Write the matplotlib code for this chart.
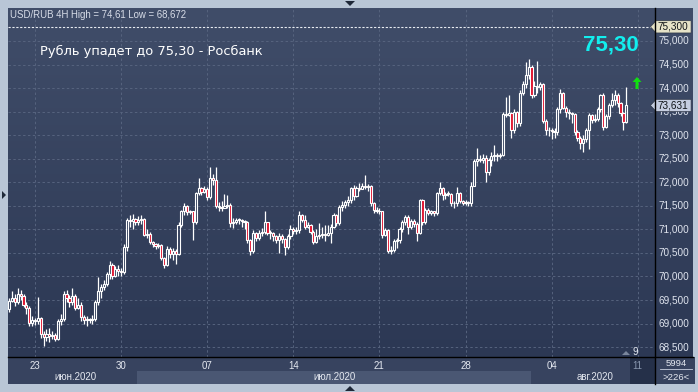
import numpy as np
import matplotlib.pyplot as plt
from matplotlib.colors import LinearSegmentedColormap
from matplotlib.patches import Polygon, Rectangle
import matplotlib.transforms as mtransforms

# 4H candles USD/RUB, first candle index relative to 23 June (index 0)
first_index = -9
first_open = 69.30
closes = [69.48, 69.55, 69.45, 69.62, 69.58, 69.40, 69.33, 69.02, 69.08, 69.05,
          69.12, 68.78, 68.72, 68.78, 68.74, 68.76, 68.67, 69.05, 69.10, 69.62,
          69.55, 69.45, 69.58, 69.33, 69.40, 69.13, 69.08, 69.10, 69.07, 69.10,
          69.45, 69.70, 69.78, 69.85, 70.05, 70.25, 70.02, 70.15, 70.12, 70.10,
          70.62, 71.20, 71.18, 71.22, 71.16, 71.20, 71.22, 70.88, 70.90, 70.73,
          70.68, 70.65, 70.66, 70.40, 70.25, 70.58, 70.48, 70.55, 70.47, 71.10,
          71.38, 71.50, 71.36, 71.38, 71.15, 71.77, 71.87, 71.80, 71.85, 71.68,
          72.10, 72.05, 71.50, 71.48, 71.46, 71.50, 71.52, 71.13, 71.15, 71.20,
          71.20, 71.18, 71.16, 70.78, 70.55, 70.93, 70.82, 70.92, 70.95, 71.15,
          70.93, 70.92, 70.85, 70.78, 70.86, 70.80, 70.62, 70.85, 71.00, 70.97,
          70.98, 71.30, 71.20, 71.05, 71.10, 70.95, 70.74, 70.85, 70.88, 70.90,
          70.88, 70.92, 71.05, 71.30, 71.13, 71.48, 71.52, 71.58, 71.62, 71.87,
          71.70, 71.88, 71.85, 71.92, 71.90, 71.92, 71.55, 71.42, 71.40, 71.38,
          70.88, 70.98, 70.55, 70.57, 70.75, 70.77, 71.00, 71.15, 71.27, 71.05,
          71.18, 71.12, 70.93, 71.62, 71.15, 71.42, 71.35, 71.38, 71.35, 71.77,
          71.88, 71.72, 71.75, 71.76, 71.55, 71.56, 71.77, 71.60, 71.57, 71.58,
          71.55, 71.93, 72.45, 72.50, 72.47, 72.52, 72.22, 72.47, 72.55, 72.58,
          72.55, 72.58, 73.45, 73.42, 73.48, 73.10, 73.50, 73.25, 73.90, 74.08,
          74.28, 74.45, 73.85, 74.05, 74.02, 74.08, 73.30, 73.12, 73.10, 73.08,
          73.07, 73.55, 73.90, 73.58, 73.50, 73.47, 73.45, 73.07, 72.93, 72.84,
          72.92, 73.10, 73.43, 73.32, 73.34, 73.55, 73.85, 73.17, 73.40, 73.63,
          73.75, 73.85, 73.68, 73.47, 73.28, 73.63]
highs = [69.55, 69.70, 69.62, 69.75, 69.72, 69.62, 69.45, 69.38, 69.15, 69.12,
         69.56, 69.14, 68.85, 68.88, 68.90, 68.85, 68.80, 69.10, 69.20, 69.70,
         69.72, 69.60, 69.75, 69.62, 69.55, 69.45, 69.18, 69.15, 69.12, 69.18,
         69.50, 69.99, 69.85, 69.92, 70.10, 70.32, 70.28, 70.22, 70.25, 70.18,
         70.68, 71.25, 71.30, 71.32, 71.25, 71.28, 71.30, 71.25, 71.00, 70.95,
         70.75, 70.72, 70.72, 70.68, 70.42, 70.65, 70.62, 70.60, 70.58, 71.15,
         71.42, 71.55, 71.52, 71.42, 71.40, 71.80, 72.10, 71.90, 71.92, 71.90,
         72.32, 72.18, 72.32, 71.58, 71.60, 71.75, 71.73, 71.55, 71.25, 71.25,
         71.25, 71.22, 71.20, 71.18, 70.80, 70.98, 70.95, 70.98, 71.02, 71.40,
         71.15, 70.98, 70.95, 70.88, 70.92, 70.90, 70.82, 70.90, 71.10, 71.05,
         71.05, 71.38, 71.32, 71.30, 71.15, 71.12, 70.98, 71.00, 71.13, 71.05,
         71.10, 71.10, 71.12, 71.35, 71.32, 71.52, 71.60, 71.62, 71.70, 71.90,
         71.95, 71.92, 71.98, 71.98, 72.15, 71.96, 71.94, 71.58, 71.48, 71.45,
         71.40, 71.02, 71.00, 70.65, 70.80, 70.82, 71.05, 71.20, 71.30, 71.30,
         71.22, 71.22, 71.15, 71.65, 71.65, 71.45, 71.45, 71.42, 71.40, 71.80,
         72.00, 71.90, 71.80, 71.82, 71.78, 71.60, 71.90, 71.80, 71.62, 71.62,
         71.60, 72.00, 72.50, 72.72, 72.58, 72.60, 72.58, 72.52, 72.65, 72.80,
         72.62, 72.62, 73.50, 73.80, 73.85, 73.50, 73.55, 73.52, 73.95, 74.15,
         74.55, 74.61, 74.50, 74.15, 74.58, 74.12, 74.10, 73.35, 73.18, 73.15,
         73.15, 73.60, 73.98, 73.92, 73.62, 73.55, 73.50, 73.48, 73.12, 72.98,
         73.00, 73.15, 73.48, 73.45, 73.45, 73.60, 73.88, 73.90, 73.45, 73.68,
         73.90, 73.95, 73.90, 73.70, 73.50, 74.02]
lows = [69.25, 69.45, 69.38, 69.42, 69.50, 69.35, 69.20, 68.95, 68.95, 68.98,
        69.00, 68.70, 68.53, 68.62, 68.60, 68.68, 68.62, 68.65, 68.98, 69.05,
        69.45, 69.35, 69.40, 69.28, 69.30, 69.05, 69.00, 68.95, 69.02, 69.00,
        69.05, 69.40, 69.55, 69.72, 69.80, 69.95, 69.95, 69.98, 70.00, 70.02,
        70.05, 70.55, 71.05, 71.00, 71.10, 71.10, 71.12, 70.85, 70.82, 70.68,
        70.62, 70.58, 70.60, 70.35, 70.18, 70.22, 70.40, 70.35, 70.27, 70.45,
        71.05, 71.30, 71.30, 71.32, 70.77, 71.12, 71.72, 71.72, 71.78, 71.62,
        71.65, 71.95, 71.45, 71.38, 71.40, 71.45, 71.45, 71.05, 71.03, 71.12,
        71.12, 71.05, 71.00, 70.72, 70.45, 70.50, 70.75, 70.78, 70.85, 70.90,
        70.88, 70.80, 70.75, 70.72, 70.50, 70.70, 70.45, 70.58, 70.80, 70.90,
        70.90, 70.92, 71.15, 71.00, 71.02, 70.90, 70.68, 70.72, 70.80, 70.82,
        70.75, 70.85, 70.70, 71.02, 71.08, 71.10, 71.40, 71.45, 71.50, 71.55,
        71.62, 71.68, 71.82, 71.85, 71.85, 71.82, 71.50, 71.35, 71.35, 71.33,
        70.82, 70.85, 70.50, 70.48, 70.52, 70.60, 70.72, 70.95, 71.10, 70.90,
        71.00, 71.05, 70.75, 70.90, 71.10, 71.12, 71.30, 71.30, 71.28, 71.30,
        71.72, 71.62, 71.65, 71.70, 71.50, 71.45, 71.50, 71.55, 71.52, 71.52,
        71.50, 71.50, 71.92, 72.35, 72.42, 72.40, 72.00, 72.15, 72.35, 72.45,
        72.45, 72.52, 72.55, 73.38, 73.40, 72.95, 73.05, 73.18, 73.20, 73.85,
        74.00, 74.20, 73.78, 73.80, 73.90, 73.95, 73.25, 73.00, 72.98, 72.92,
        72.95, 73.00, 73.48, 73.55, 73.38, 73.35, 73.25, 73.00, 72.88, 72.70,
        72.65, 72.85, 72.70, 73.25, 73.28, 73.30, 73.50, 73.10, 73.15, 73.35,
        73.60, 73.65, 73.60, 73.40, 73.10, 73.25]

week_labels = ['23', '30', '07', '14', '21', '28', '04', '11']
month_labels = ['июн.2020', 'июл.2020', 'авг.2020']
price_ticks = [68.5, 69.0, 69.5, 70.0, 70.5, 71.0, 71.5, 72.0, 72.5, 73.0, 73.5, 74.0, 74.5, 75.0]
target_price = 75.30
last_price = 73.631
title = 'USD/RUB 4H High = 74,61 Low = 68,672'
headline = 'Рубль упадет до 75,30 - Росбанк'

W, H = 698, 392
fig = plt.figure(figsize=(W / 100, H / 100), dpi=100)
fig.patch.set_facecolor('#b9c6d6')


def box(x0, y0, x1, y1):
    return [x0 / W, 1 - y1 / H, (x1 - x0) / W, (y1 - y0) / H]


def fig_poly(pts, color):
    fig.add_artist(Polygon([(px / W, 1 - py / H) for px, py in pts], closed=True,
                           facecolor=color, lw=0, transform=fig.transFigure))


bg_cmap = LinearSegmentedColormap.from_list('bg', ['#404d69', '#2c3854'])
ylo, yhi = 68.29, 75.70
xlo, xhi = -9.4, 216.0

ax = fig.add_axes(box(8, 8, 655, 357))
ax.set_xlim(xlo, xhi)
ax.set_ylim(ylo, yhi)
ax.imshow(np.linspace(0, 1, 256).reshape(-1, 1), cmap=bg_cmap, aspect='auto',
          extent=[xlo, xhi, ylo, yhi], zorder=0)
ax.axis('off')

# grid
for p in price_ticks:
    ax.axhline(p, color='#56637e', lw=0.7, ls=(0, (2.5, 2.5)), zorder=1)
for k in range(len(week_labels)):
    ax.axvline(k * 30, color='#56637e', lw=0.7, ls=(0, (2.5, 2.5)), zorder=1)

# candles
o = np.array([first_open] + closes[:-1])
c = np.array(closes)
h = np.array(highs)
l = np.array(lows)
x = np.arange(len(c)) + first_index
top = np.maximum(o, c)
bot = np.minimum(o, c)
up = c >= o
ax.vlines(x, top, np.maximum(h, top), color='white', lw=0.9, zorder=3)
ax.vlines(x, np.minimum(l, bot), bot, color='white', lw=0.9, zorder=3)
face = [(0, 0, 0, 0) if u else '#e0102c' for u in up]
ax.bar(x, np.maximum(top - bot, 0.015), bottom=bot, width=0.75, color=face,
       edgecolor='white', linewidth=0.8, zorder=4)

ax.axhline(target_price, color='#e8ecf2', lw=0.8, ls=(0, (2, 1.5)), zorder=2)

fig.text(10 / W, 1 - 15 / H, title, fontsize=6.9, color='#d8dde8',
         family='Liberation Sans', va='center')
fig.text(40 / W, 1 - 51 / H, headline, fontsize=9.4, color='white',
         family='DejaVu Sans', va='center')
fig.text(583 / W, 1 - 45 / H, '75,30', fontsize=16, color='#12eeee',
         family='Liberation Sans', fontweight='bold', va='center')
# green up arrow
fig_poly([(637, 77), (641.5, 82), (638.5, 82), (638.5, 89), (635.5, 89), (635.5, 82), (632.5, 82)],
         '#10e010')

# right price axis
axr = fig.add_axes(box(655, 8, 693, 357))
axr.set_xlim(0, 1)
axr.set_ylim(ylo, yhi)
axr.imshow(np.linspace(0, 1, 256).reshape(-1, 1), cmap=bg_cmap, aspect='auto',
           extent=[0, 1, ylo, yhi], zorder=0)
axr.axis('off')
for p in price_ticks:
    axr.text(0.08, p, f'{p:.3f}'.replace('.', ','), fontsize=7.2, color='#dfe4ee',
             family='Liberation Sans', va='center', ha='left')

tr = mtransforms.blended_transform_factory(axr.transAxes, axr.transData)
for price, fc in [(target_price, '#e6e3c8'), (last_price, '#c5cde0')]:
    d = 0.13
    pts = [(-0.12, price), (0.03, price + d), (0.95, price + d), (0.95, price - d), (0.03, price - d)]
    axr.add_patch(Polygon(pts, closed=True, facecolor=fc, edgecolor='#303848', lw=0.5,
                          transform=tr, clip_on=False, zorder=5))
    axr.text(0.06, price, f'{price:.3f}'.replace('.', ','), fontsize=7.2, color='#101418',
             family='Liberation Sans', va='center', ha='left', transform=tr, zorder=6)

# bottom time strip
axb = fig.add_axes(box(8, 357, 655, 384))
axb.set_xlim(xlo, xhi)
axb.set_ylim(0, 1)
axb.set_facecolor('#37435f')
axb.set_xticks([])
axb.set_yticks([])
for s in axb.spines.values():
    s.set_visible(False)
axb.add_patch(Rectangle(((137 - 35) / 2.87, 0), (531 - 137) / 2.87, 0.5,
                        facecolor='#4a5773', lw=0, zorder=1))
axb.add_patch(Rectangle(((630 - 35) / 2.87, 0), 25 / 2.87, 1.0,
                        facecolor='#253049', lw=0, zorder=1))
for k, lab in enumerate(week_labels):
    col = '#8896ae' if lab == '11' else '#e4e8f0'
    axb.text(k * 30, 0.68, lab, fontsize=7.0, color=col, family='Liberation Sans',
             ha='center', va='center', zorder=3)
for xm, lab in zip([75, 334, 595], month_labels):
    axb.text((xm - 35) / 2.87, 0.25, lab, fontsize=7.0, color='#e4e8f0',
             family='Liberation Sans', ha='center', va='center', zorder=3)

axc = fig.add_axes(box(655, 357, 695, 384))
axc.set_xlim(0, 1)
axc.set_ylim(0, 1)
axc.set_facecolor('#37435f')
axc.set_xticks([])
axc.set_yticks([])
for s in axc.spines.values():
    s.set_visible(False)
axc.text(0.52, 0.76, '5994', fontsize=6.8, color='#e4e8f0', family='Liberation Sans',
         ha='center', va='center')
axc.plot([0.12, 0.92], [0.54, 0.54], color='#c8d0e0', lw=0.6)
axc.text(0.52, 0.24, '>226<', fontsize=6.8, color='#e4e8f0', family='Liberation Sans',
         ha='center', va='center')

# separators and small markers
fig.add_artist(plt.Line2D([655 / W, 655 / W], [1 - 384 / H, 1 - 8 / H], color='black', lw=1.0))
fig.add_artist(plt.Line2D([8 / W, 693 / W], [1 - 357 / H, 1 - 357 / H], color='black', lw=1.0))
fig.text(635 / W, 1 - 352 / H, '9', fontsize=7.0, color='#e4e8f0', family='Liberation Sans',
         ha='center', va='center')
fig_poly([(622, 355), (626, 351), (630, 355)], '#7a869c')
fig_poly([(345, 1), (355, 1), (350, 6)], '#1e2838')
fig_poly([(345, 391), (355, 391), (350, 386)], '#1e2838')
fig_poly([(2, 191), (2, 199), (6, 195)], '#1e2838')

fig.savefig('out.png', dpi=100, facecolor=fig.get_facecolor())
